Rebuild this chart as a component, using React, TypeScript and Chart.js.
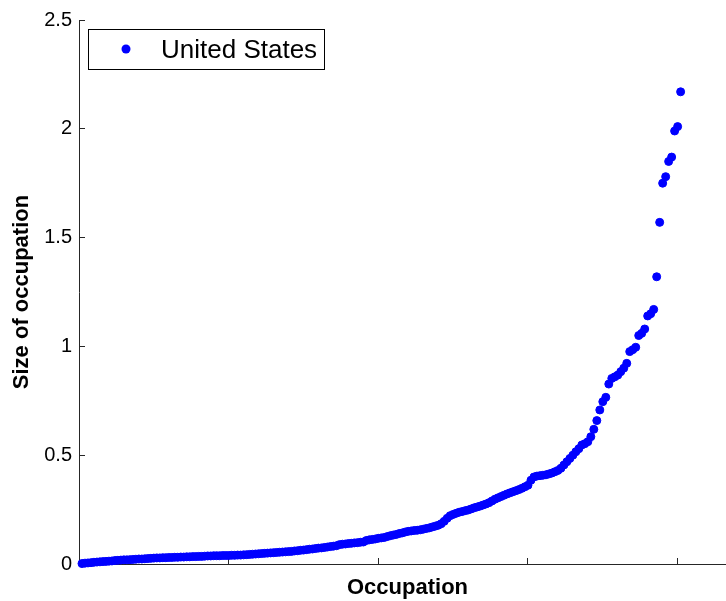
import { useEffect, useRef } from "react";
import { Chart, registerables } from "chart.js";

Chart.register(...registerables);

// Occupations ranked by size (United States), one value per occupation.
const SERIES_LABEL = "United States";
const occupationSize = [
  0.002, 0.004, 0.005, 0.006, 0.008, 0.009, 0.010, 0.011, 0.012, 0.013,
  0.014, 0.016, 0.017, 0.018, 0.019, 0.019, 0.020, 0.021, 0.022, 0.023,
  0.023, 0.024, 0.025, 0.026, 0.027, 0.028, 0.028, 0.029, 0.029, 0.030,
  0.030, 0.031, 0.031, 0.032, 0.032, 0.033, 0.033, 0.034, 0.034, 0.035,
  0.035, 0.036, 0.037, 0.037, 0.038, 0.038, 0.038, 0.039, 0.039, 0.039,
  0.040, 0.040, 0.041, 0.041, 0.042, 0.043, 0.044, 0.045, 0.046, 0.047,
  0.048, 0.049, 0.050, 0.051, 0.052, 0.053, 0.054, 0.055, 0.056, 0.057,
  0.058, 0.060, 0.061, 0.063, 0.064, 0.066, 0.068, 0.069, 0.071, 0.073,
  0.074, 0.076, 0.078, 0.080, 0.082, 0.084, 0.089, 0.091, 0.092, 0.094,
  0.095, 0.097, 0.098, 0.100, 0.101, 0.108, 0.111, 0.113, 0.115, 0.118,
  0.120, 0.122, 0.126, 0.130, 0.133, 0.136, 0.140, 0.143, 0.147, 0.150,
  0.152, 0.154, 0.155, 0.157, 0.160, 0.163, 0.166, 0.170, 0.174, 0.178,
  0.185, 0.196, 0.210, 0.222, 0.228, 0.233, 0.238, 0.241, 0.245, 0.248,
  0.253, 0.258, 0.262, 0.266, 0.271, 0.276, 0.282, 0.290, 0.298, 0.304,
  0.310, 0.316, 0.322, 0.327, 0.332, 0.337, 0.342, 0.348, 0.355, 0.362,
  0.385, 0.400, 0.404, 0.406, 0.408, 0.410, 0.414, 0.418, 0.424, 0.430,
  0.440, 0.455, 0.470, 0.485, 0.500, 0.516, 0.530, 0.547, 0.553, 0.562,
  0.585, 0.619, 0.659, 0.708, 0.746, 0.766, 0.827, 0.853, 0.860, 0.868,
  0.884, 0.900, 0.922, 0.976, 0.985, 0.996, 1.050, 1.060, 1.080, 1.140,
  1.150, 1.170, 1.320, 1.570, 1.750, 1.780, 1.850, 1.870, 1.990, 2.010,
  2.170,
];

const X_TITLE = "Occupation";
const Y_TITLE = "Size of occupation";
const xTickValues = [0, 50, 100, 150, 200];
const yTickValues = [0, 0.5, 1, 1.5, 2, 2.5];
const yTickLabels = ["0", "0.5", "1", "1.5", "2", "2.5"];

const FONT = "'Liberation Sans', Arial, Helvetica, sans-serif";
const AXIS_COLOR = "#262626";
const POINT_COLOR = "#0000ff";

// Boxed legend drawn in the upper-left corner of the plot area.
const legendBoxPlugin = {
  id: "legendBox",
  afterDatasetsDraw(chart: any) {
    const { ctx, chartArea } = chart;
    const ds = chart.data.datasets[0];
    const x = Math.round(chartArea.left + 9);
    const y = Math.round(chartArea.top + 9);
    const w = 236;
    const h = 40;
    ctx.save();
    ctx.fillStyle = "#ffffff";
    ctx.fillRect(x, y, w, h);
    ctx.strokeStyle = "#000000";
    ctx.lineWidth = 1;
    ctx.strokeRect(x + 0.5, y + 0.5, w, h);
    ctx.fillStyle = POINT_COLOR;
    ctx.beginPath();
    ctx.arc(x + 38, y + 20, 4.5, 0, Math.PI * 2);
    ctx.fill();
    ctx.fillStyle = "#000000";
    ctx.font = `26px ${FONT}`;
    ctx.textAlign = "left";
    ctx.textBaseline = "alphabetic";
    ctx.fillText(ds.label, x + 73, y + 29);
    ctx.restore();
  },
};

export default function App() {
  const canvasRef = useRef<HTMLCanvasElement | null>(null);

  useEffect(() => {
    if (!canvasRef.current) return;
    const points = occupationSize.map((v, i) => ({ x: i + 1, y: v }));
    const chart = new Chart(canvasRef.current, {
      type: "scatter",
      data: {
        datasets: [
          {
            label: SERIES_LABEL,
            data: points,
            backgroundColor: POINT_COLOR,
            borderColor: POINT_COLOR,
            pointRadius: 4,
            borderWidth: 1,
            showLine: false,
            clip: false,
          } as any,
        ],
      },
      options: {
        responsive: false,
        animation: false,
        devicePixelRatio: 1,
        layout: {
          autoPadding: false,
          padding: { top: 20, left: 0, right: 0, bottom: 0 },
        },
        plugins: {
          legend: { display: false },
          tooltip: { enabled: false },
        },
        scales: {
          x: {
            type: "linear",
            min: 0,
            max: 219.5,
            afterBuildTicks: (s: any) => {
              s.ticks = xTickValues.map((v) => ({ value: v }));
            },
            afterFit: (s: any) => {
              s.height = 37;
              s.paddingLeft = 0;
              s.paddingRight = 0;
            },
            ticks: { display: false },
            grid: {
              drawOnChartArea: false,
              drawTicks: true,
              tickLength: -6,
              color: AXIS_COLOR,
              lineWidth: 1,
            },
            border: { display: true, color: AXIS_COLOR, width: 1 },
            title: {
              display: true,
              text: X_TITLE,
              color: "#000000",
              font: { family: FONT, size: 22, weight: "bold" },
              padding: { top: 0, bottom: 0 },
            },
          },
          y: {
            type: "linear",
            min: 0,
            max: 2.5,
            afterBuildTicks: (s: any) => {
              s.ticks = yTickValues.map((v) => ({ value: v }));
            },
            afterFit: (s: any) => {
              s.width = 79;
              s.paddingTop = 0;
              s.paddingBottom = 0;
            },
            ticks: {
              callback: (_v: any, i: number) => yTickLabels[i],
              color: "#000000",
              font: { family: FONT, size: 20 },
              padding: 13,
            },
            grid: {
              drawOnChartArea: false,
              drawTicks: true,
              tickLength: -6,
              color: AXIS_COLOR,
              lineWidth: 1,
            },
            border: { display: true, color: AXIS_COLOR, width: 1 },
            title: {
              display: true,
              text: Y_TITLE,
              color: "#000000",
              font: { family: FONT, size: 22, weight: "bold" },
              padding: { top: 9, bottom: 0 },
            },
          },
        },
      } as any,
      plugins: [legendBoxPlugin],
    });
    return () => chart.destroy();
  }, []);

  return (
    <div
      style={{
        position: "fixed",
        left: 0,
        top: 0,
        width: 726,
        height: 601,
        overflow: "hidden",
        background: "#ffffff",
      }}
    >
      <canvas ref={canvasRef} width={736} height={601} style={{ display: "block" }} />
    </div>
  );
}
